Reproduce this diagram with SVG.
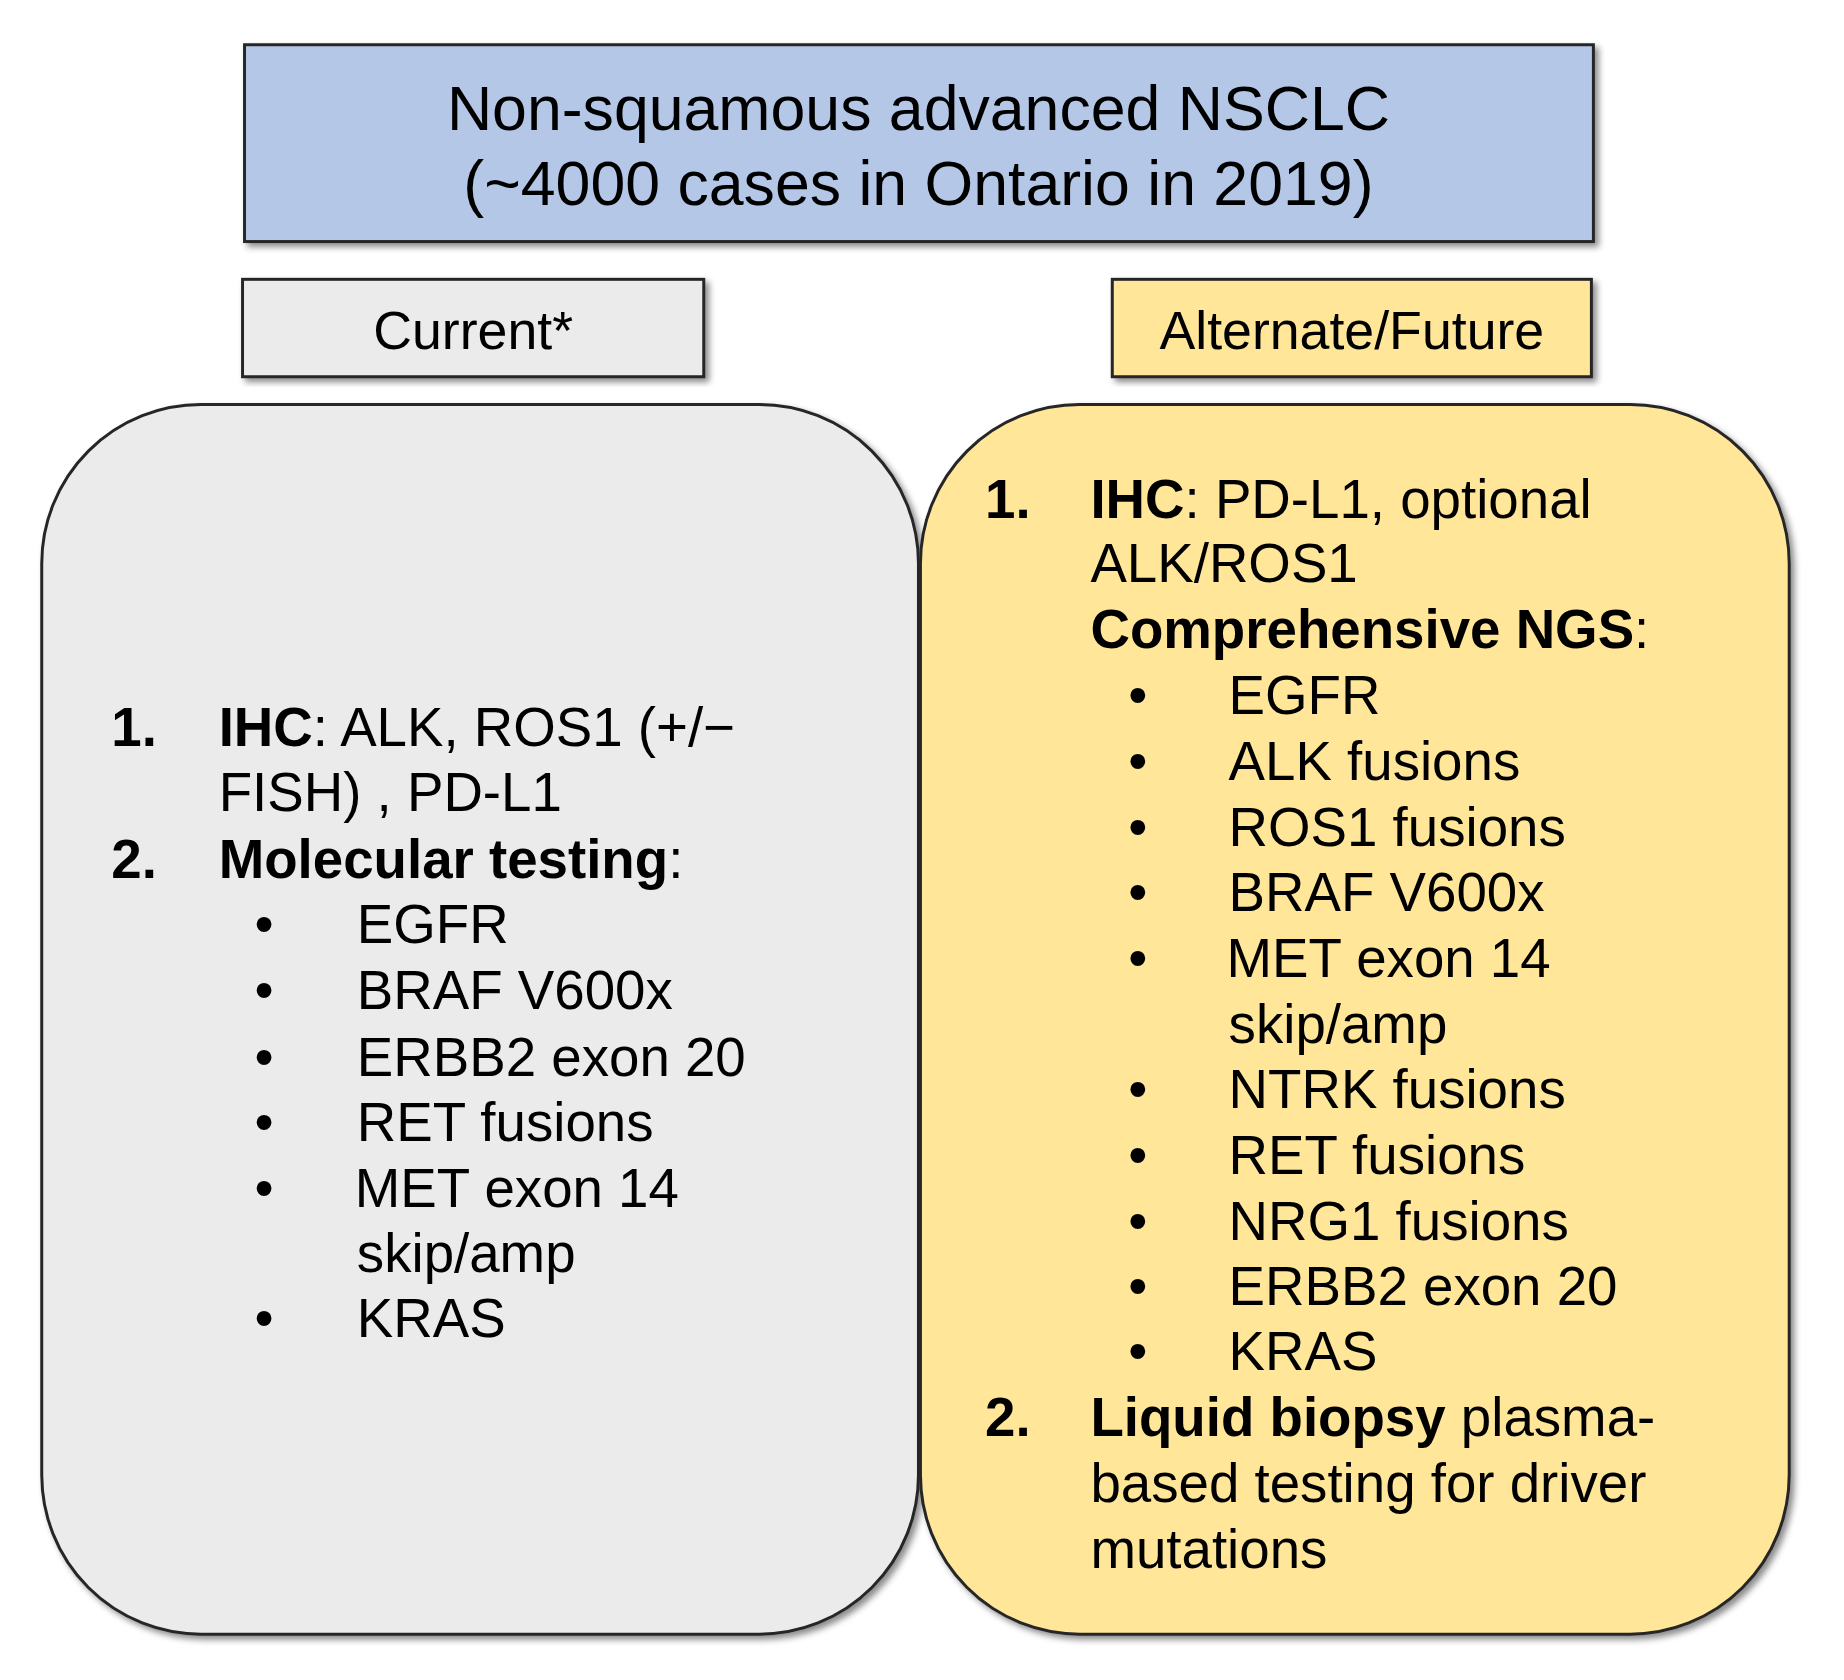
<svg xmlns="http://www.w3.org/2000/svg" width="1844" height="1680" viewBox="0 0 1844 1680">
<defs>
<style>
text{font-family:"Liberation Sans",Arial,sans-serif;fill:#000}
.b{font-size:55px}
.t{font-size:63px}
.h{font-size:54px}
.bo{font-weight:bold}
.box{stroke:#262626;stroke-width:3}
</style>
<filter id="sh" x="-5%" y="-5%" width="115%" height="115%">
<feDropShadow dx="4" dy="4" stdDeviation="3" flood-color="#000" flood-opacity="0.45"/>
</filter>
</defs>
<rect width="1844" height="1680" fill="#fff"/>
<g transform="translate(0,1) scale(0.994)">
<g id="title">
<rect class="box" x="246" y="44" width="1357" height="198" fill="#b4c7e7" filter="url(#sh)"/>
<text class="t" x="924" y="130" text-anchor="middle">Non-squamous advanced NSCLC</text>
<text class="t" x="924" y="205" text-anchor="middle">(~4000 cases in Ontario in 2019)</text>
</g>
<g id="current-label">
<rect class="box" x="244" y="280" width="464" height="98" fill="#ebebeb" filter="url(#sh)"/>
<text class="h" x="476" y="350" text-anchor="middle">Current*</text>
</g>
<g id="alt-label">
<rect class="box" x="1119" y="280" width="482" height="98" fill="#ffe699" filter="url(#sh)"/>
<text class="h" x="1360" y="350" text-anchor="middle">Alternate/Future</text>
</g>
<g id="current-box">
<rect class="box" x="42" y="406" width="882" height="1237" rx="160" fill="#ebebeb" filter="url(#sh)"/>
<g class="b" transform="translate(0,1)">
<text x="112" y="749" class="bo">1.</text><text x="220" y="749"><tspan class="bo">IHC</tspan>: ALK, ROS1 (+/−</text>
<text x="220" y="814">FISH) , PD-L1</text>
<text x="112" y="881" class="bo">2.</text><text x="220" y="881"><tspan class="bo">Molecular testing</tspan>:</text>
<text x="256" y="947">•</text><text x="359" y="947">EGFR</text>
<text x="256" y="1013">•</text><text x="359" y="1013">BRAF V600x</text>
<text x="256" y="1080">•</text><text x="359" y="1080">ERBB2 exon 20</text>
<text x="256" y="1146">•</text><text x="359" y="1146">RET fusions</text>
<text x="256" y="1212">•</text><text x="357" y="1212">MET exon 14</text>
<text x="359" y="1278">skip/amp</text>
<text x="256" y="1343">•</text><text x="359" y="1343">KRAS</text>
</g>
</g>
<g id="alt-box">
<rect class="box" x="926" y="406" width="874" height="1237" rx="160" fill="#ffe699" filter="url(#sh)"/>
<g class="b" transform="translate(0,1)">
<text x="991" y="519" class="bo">1.</text><text x="1097" y="519"><tspan class="bo">IHC</tspan>: PD-L1, optional</text>
<text x="1097" y="584">ALK/ROS1</text>
<text x="1097" y="650"><tspan class="bo">Comprehensive NGS</tspan>:</text>
<text x="1135" y="716">•</text><text x="1236" y="716">EGFR</text>
<text x="1135" y="783">•</text><text x="1236" y="783">ALK fusions</text>
<text x="1135" y="849">•</text><text x="1236" y="849">ROS1 fusions</text>
<text x="1135" y="915">•</text><text x="1236" y="915">BRAF V600x</text>
<text x="1135" y="981">•</text><text x="1234" y="981">MET exon 14</text>
<text x="1236" y="1047">skip/amp</text>
<text x="1135" y="1113">•</text><text x="1236" y="1113">NTRK fusions</text>
<text x="1135" y="1179">•</text><text x="1236" y="1179">RET fusions</text>
<text x="1135" y="1245">•</text><text x="1236" y="1245">NRG1 fusions</text>
<text x="1135" y="1311">•</text><text x="1236" y="1311">ERBB2 exon 20</text>
<text x="1135" y="1376">•</text><text x="1236" y="1376">KRAS</text>
<text x="991" y="1443" class="bo">2.</text><text x="1097" y="1443"><tspan class="bo">Liquid biopsy</tspan> plasma-</text>
<text x="1097" y="1509">based testing for driver</text>
<text x="1097" y="1575">mutations</text>
</g>
</g>
<g id="connectors"/>
</g>
</svg>
